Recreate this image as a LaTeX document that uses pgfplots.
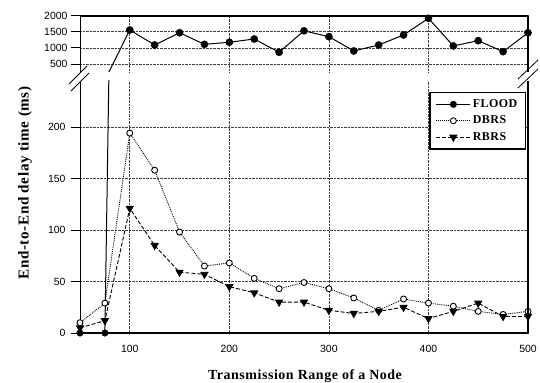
\documentclass[border=0pt]{standalone}
\usepackage{fontspec}
\setmainfont{Liberation Serif}
\newfontfamily\sansf{Liberation Sans}
\newfontfamily\spacedserif{Liberation Serif}[LetterSpace=4]
\usepackage{pgfplots}
\pgfplotsset{compat=1.18}
\usepackage{pgfplotstable}

\pgfplotstableread{
x y
50 0
75 0
100 1556
125 1090
150 1470
175 1110
200 1174
225 1276
250 863
275 1530
300 1348
325 904
350 1090
375 1400
400 1919
425 1059
450 1224
475 882
500 1470
}\flood
\pgfplotstableread{
x y
50 10
75 29
100 194
125 158
150 98
175 65
200 68
225 53
250 43
275 49
300 43
325 34
350 22
375 33
400 29
425 26
450 21
475 18
500 21
}\dbrs
\pgfplotstableread{
x y
50 5
75 12
100 121
125 85
150 59
175 57
200 45
225 39
250 30
275 30
300 22
325 19
350 21
375 25
400 14
425 21
450 29
475 16
500 16
}\rbrs

\pgfplotsset{
  common/.style={
    anchor=south west, scale only axis, width=448bp,
    xmin=50, xmax=500,
    xmajorgrids, ymajorgrids,
    grid style={black!75, densely dotted, line width=0.6bp},
    tick label style={font=\sansf\fontsize{10.5}{12}\selectfont},
    /pgf/number format/assume math mode=true,
    /pgf/number format/1000 sep={},
    scaled ticks=false,
    tick align=outside,
    major tick length=9bp,
    xtick style={draw=none},
    ytick style={black, line width=0.8bp},
    ytick pos=left,
    axis y line*=box,
    every outer y axis line/.append style={line width=0.8bp},
    every outer x axis line/.append style={line width=1.8bp},
  },
}

\begin{document}
\begin{tikzpicture}
\useasboundingbox (0,0) rectangle (540bp,383bp);

% top panel
\begin{axis}[common,
  at={(80bp,311bp)}, height=56.3bp,
  ymin=250, ymax=2000,
  axis x line*=top,
  xtick={100,200,300,400}, xticklabels={},
  ytick={500,1000,1500,2000},
]
\addplot[black, solid, line width=1bp] table {\flood};
\addplot[black, only marks, mark=*, mark size=3.6bp, restrict x to domain=90:510] table {\flood};
\end{axis}

% bottom panel
\begin{axis}[common,
  at={(80bp,50bp)}, height=252.4bp,
  ymin=0, ymax=245,
  axis x line*=bottom,
  xtick={100,200,300,400,500},
  ytick={0,50,100,150,200},
  yticklabel style={xshift=-2bp},
  legend cell align=left,
  legend style={at={(0.9955,0.955)}, anchor=north east, draw=black, line width=1.4bp,
    fill=white, font=\spacedserif\bfseries\fontsize{12}{14}\selectfont,
    inner xsep=6bp, inner ysep=5bp, row sep=3bp},
  legend image code/.code={\draw[mark repeat=2,mark phase=2] plot coordinates {(0bp,0bp) (17bp,0bp) (34bp,0bp)};},
]
\addlegendimage{black, solid, line width=1bp, mark=*, mark size=3bp, mark options={solid, fill=black}}
\addlegendentry{FLOOD}
\addplot[black, solid, line width=1bp, forget plot] table {\flood};
\addplot[black, only marks, mark=*, mark size=3.3bp, restrict x to domain=40:80, forget plot] table {\flood};
\addplot[black, line width=0.9bp, densely dotted, mark=*, mark size=3bp,
  mark options={solid, fill=white, draw=black, line width=0.9bp}] table {\dbrs};
\addlegendentry{DBRS}
\addplot[black, line width=0.9bp, dash pattern=on 4bp off 2bp, mark=triangle*, mark size=4bp,
  mark options={solid, rotate=180, fill=black}] table {\rbrs};
\addlegendentry{RBRS}
\end{axis}

% thick right borders
\draw[line width=1.8bp] (528bp,50bp) -- (528bp,302.4bp);
\draw[line width=1.8bp] (528bp,311bp) -- (528bp,367.3bp);

% axis break marks
\draw[line width=0.8bp] (69bp,299bp) -- (87bp,317bp);
\draw[line width=0.8bp] (71bp,292bp) -- (89bp,310bp);
\draw[line width=0.8bp] (518bp,304bp) -- (538bp,323bp);
\draw[line width=0.8bp] (518bp,295bp) -- (538bp,314bp);

% axis titles
\node[rotate=90, inner sep=0pt, font=\spacedserif\bfseries\fontsize{15.2}{17}\selectfont] at (25bp,200bp) {End-to-End delay time (ms)};
\node[inner sep=0pt, font=\spacedserif\bfseries\fontsize{14}{16}\selectfont] at (305bp,7bp) {Transmission Range of a Node};
\end{tikzpicture}
\end{document}
